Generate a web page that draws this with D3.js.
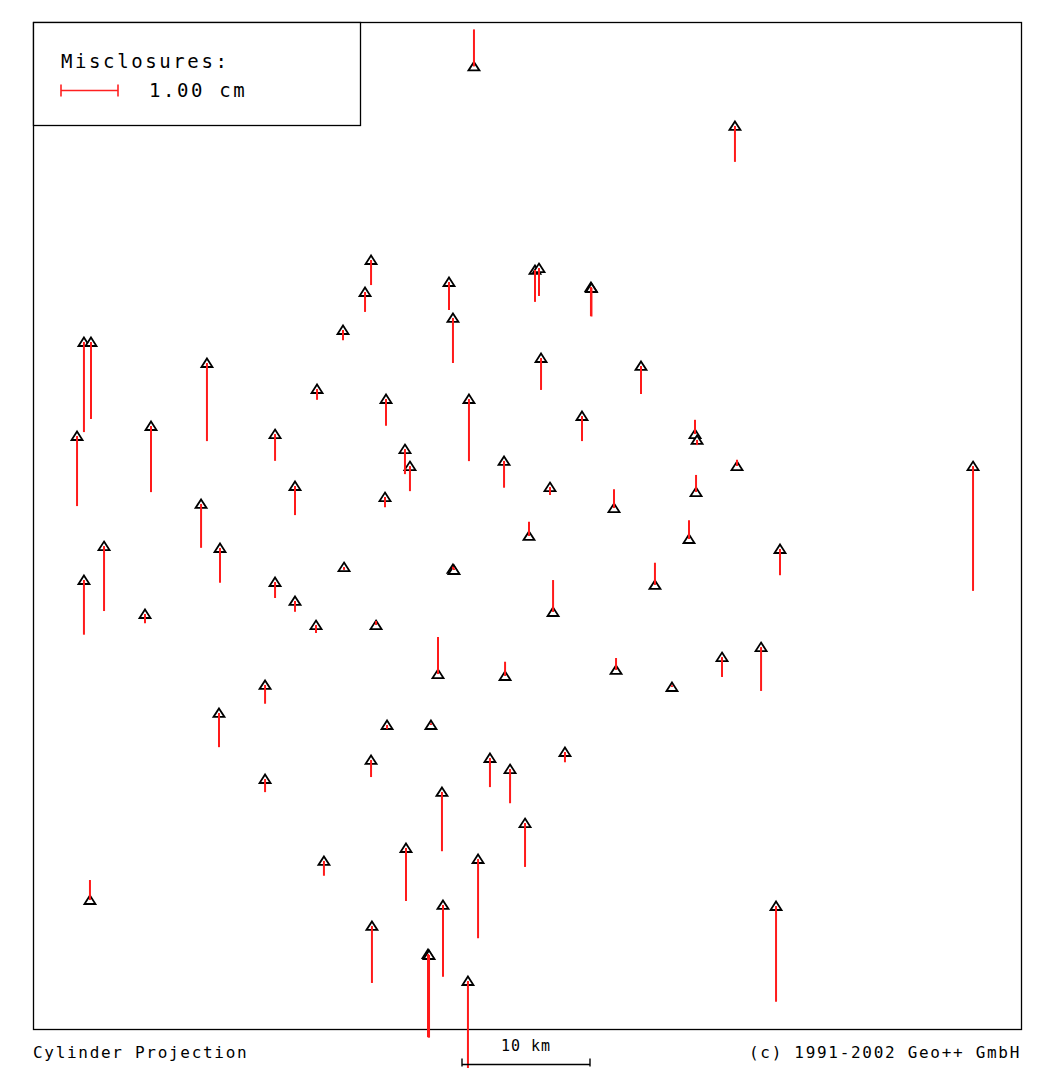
<!DOCTYPE html>
<html><head><meta charset="utf-8">
<script src="https://cdn.jsdelivr.net/npm/d3@7"></script>
<style>
html,body{margin:0;padding:0;background:#fff;}
text{font-family:"DejaVu Sans Mono",monospace;fill:#000;}
</style></head>
<body>
<script>
// Station positions (km, easting/northing from lower-left frame corner) and vertical misclosures (cm, + = up)
const stationE = [34.45,54.84,26.41,25.94,32.50,39.22,39.53,43.59,43.63,24.22,32.81,3.98,4.53,13.59,39.69,47.50,22.19,27.58,34.06,3.44,9.22,18.91,42.89,51.72,51.88,51.80,29.06,29.45,36.80,55.00,73.44,40.39,20.47,27.50,45.39,13.13,38.75,51.25,5.55,14.61,58.36,24.30,32.81,32.89,3.98,18.91,48.59,40.63,20.47,8.75,22.11,26.80,31.64,36.88,45.55,56.88,53.83,49.92,18.13,14.53,27.66,31.09,41.56,26.41,35.70,37.27,18.13,31.95,38.44,29.14,22.73,34.77,4.45,32.03,58.05,26.48,30.86,30.94,33.98];
const stationN = [75.20,70.55,60.08,57.58,58.36,59.30,59.45,57.97,57.89,54.61,55.55,53.67,53.67,52.03,52.42,51.80,50.00,49.22,49.22,46.33,47.11,46.48,47.89,46.48,46.02,41.95,45.31,43.98,44.38,43.98,43.98,42.34,42.42,41.56,40.70,41.02,38.52,38.28,37.73,37.58,37.50,36.09,35.94,35.86,35.08,34.92,34.69,32.58,33.44,32.42,31.56,31.56,27.73,27.58,28.05,29.84,29.06,26.72,26.88,24.69,23.75,23.75,21.64,21.02,21.17,20.31,19.53,18.52,16.09,14.14,13.13,13.28,10.08,9.69,9.61,8.05,5.86,5.78,3.75];
const misclosure = [0.65,-0.63,-0.44,-0.35,-0.49,-0.56,-0.49,-0.51,-0.50,-0.18,-0.79,-1.58,-1.35,-1.37,-0.56,-0.49,-0.19,-0.47,-1.09,-1.23,-1.16,-0.47,-0.44,0.25,-0.09,0.30,-0.44,-0.44,-0.47,0.11,-2.19,-0.14,-0.51,-0.18,0.33,-0.77,0.25,0.33,-1.14,-0.61,-0.46,-0.05,0.04,0.03,-0.96,-0.28,0.39,0.56,-0.19,-0.16,-0.14,0.07,0.65,0.25,0.21,-0.77,-0.35,0.03,-0.33,-0.60,-0.07,0.03,-0.18,-0.30,-0.51,-0.60,-0.23,-1.04,-0.77,-0.93,-0.26,-1.39,0.35,-1.26,-1.68,-1.00,-1.46,-1.45,-1.53];
const legendTitle = "Misclosures:";
const legendValue = 1.00;
const legendLabel = "1.00 cm";
const scaleBarKm = 10;
const scaleBarLabel = "10 km";
const footerLeft = "Cylinder Projection";
const footerRight = "(c) 1991-2002 Geo++ GmbH";

const W = 1040, H = 1068;
const frame = {x0:33, x1:1021, y0:22, y1:1029};
const pxPerKm = 12.8, pxPerCm = 57;

const svg = d3.select("body").append("svg").attr("width",W).attr("height",H);

const x = d3.scaleLinear().domain([0,(frame.x1-frame.x0)/pxPerKm]).range([frame.x0,frame.x1]);
const y = d3.scaleLinear().domain([0,(frame.y1-frame.y0)/pxPerKm]).range([frame.y1,frame.y0]);
const m = d3.scaleLinear().domain([0,1]).range([0,pxPerCm]);

// frame
svg.append("rect").attr("x",frame.x0+0.5).attr("y",frame.y0+0.5)
  .attr("width",frame.x1-frame.x0).attr("height",frame.y1-frame.y0)
  .attr("fill","none").attr("stroke","#000").attr("stroke-width",1.3);

// legend box
svg.append("rect").attr("x",frame.x0+0.5).attr("y",frame.y0+0.5)
  .attr("width",327).attr("height",103)
  .attr("fill","#fff").attr("stroke","#000").attr("stroke-width",1.3);
svg.append("text").attr("x",61).attr("y",68).attr("font-size",19).attr("letter-spacing",2.6).text(legendTitle);
const lg = svg.append("g").attr("stroke","#ff2020").attr("stroke-width",1.6);
const lx0 = 61, lx1 = 61 + m(legendValue), ly = 90.5;
lg.append("line").attr("x1",lx0).attr("x2",lx1).attr("y1",ly).attr("y2",ly);
lg.append("line").attr("x1",lx0).attr("x2",lx0).attr("y1",ly-6).attr("y2",ly+6);
lg.append("line").attr("x1",lx1).attr("x2",lx1).attr("y1",ly-6).attr("y2",ly+6);
svg.append("text").attr("x",149).attr("y",97).attr("font-size",19).attr("letter-spacing",2.6).text(legendLabel);

const data = stationE.map((e,i)=>({e, n:stationN[i], v:misclosure[i]}));

// triangles
const tri = "M0,-4.5L5.5,4L-5.5,4Z";
svg.append("g").selectAll("path").data(data).join("path")
  .attr("d",tri)
  .attr("transform",d=>`translate(${x(d.e)},${y(d.n)})`)
  .attr("fill","#fff").attr("stroke","#000").attr("stroke-width",1.8).attr("stroke-linejoin","miter");

// misclosure vectors
svg.append("g").selectAll("line").data(data).join("line")
  .attr("x1",d=>x(d.e)).attr("x2",d=>x(d.e))
  .attr("y1",d=>y(d.n)).attr("y2",d=>y(d.n)-Math.sign(d.v)*m(Math.abs(d.v)))
  .attr("stroke","#ff1a1a").attr("stroke-width",2);

// footer
svg.append("text").attr("x",33).attr("y",1058).attr("font-size",16).attr("letter-spacing",1.7).text(footerLeft);
svg.append("text").attr("x",1021).attr("y",1058).attr("font-size",16).attr("letter-spacing",1.7).attr("text-anchor","end").text(footerRight);

// scale bar
const sb0 = 462, sb1 = sb0 + (x(scaleBarKm)-x(0)), sby = 1064.5;
const sg = svg.append("g").attr("stroke","#000").attr("stroke-width",1.4);
sg.append("line").attr("x1",sb0).attr("x2",sb1).attr("y1",sby).attr("y2",sby);
sg.append("line").attr("x1",sb0).attr("x2",sb0).attr("y1",sby-6).attr("y2",sby+2);
sg.append("line").attr("x1",sb1).attr("x2",sb1).attr("y1",sby-6).attr("y2",sby+2);
svg.append("text").attr("x",(sb0+sb1)/2).attr("y",1051).attr("font-size",15).attr("letter-spacing",1).attr("text-anchor","middle").text(scaleBarLabel);
</script>
</body></html>
